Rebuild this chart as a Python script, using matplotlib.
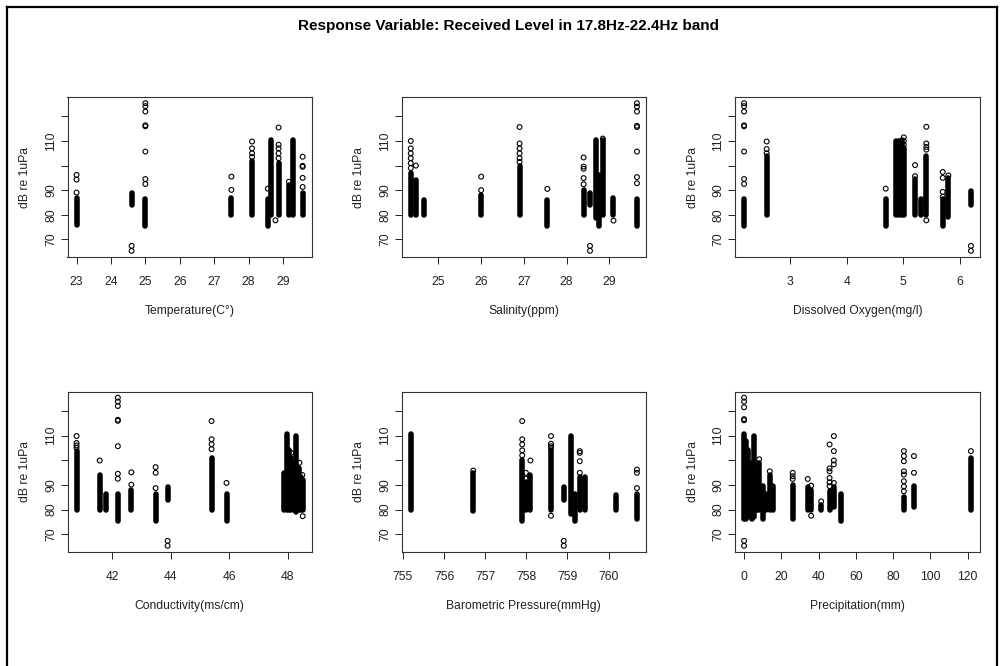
import numpy as np
import matplotlib
matplotlib.use("Agg")
import matplotlib.pyplot as plt
from matplotlib.lines import Line2D

plt.rcParams['font.family'] = ['Liberation Sans', 'DejaVu Sans']

# ---- data ----
# each panel: dense columns (x, low, high) + single circles (x, y)

# Temperature(C°)
temp_x = [23.0, 24.6, 25.0, 27.5, 28.1, 28.56, 28.66, 28.87, 29.17, 29.28, 29.57]
temp_lo = [76, 84, 75.5, 80, 80, 75.5, 80, 80, 80, 80, 80]
temp_hi = [87, 89, 86.5, 87, 102, 86.5, 110.5, 101, 92, 110.5, 89]
temp_ox = [23.0, 23.0, 23.0, 24.6, 24.6, 25.0, 25.0, 25.0, 25.0, 25.0, 25.0, 25.0, 25.0,
           27.5, 27.5, 28.1, 28.1, 28.1, 28.1, 28.56, 28.78,
           28.87, 28.87, 28.87, 28.87, 28.87, 29.17, 29.57, 29.57, 29.57, 29.57, 29.57]
temp_oy = [89, 94.3, 96.2, 65.3, 67.3, 92.5, 94.5, 105.7, 116.0, 116.4, 122.0, 124.2, 125.4,
           90.1, 95.5, 103.5, 105, 107, 109.8, 90.6, 77.7,
           103, 105, 107, 108.5, 115.5, 93.4, 91.3, 95, 99.5, 99.9, 103.6]

# Salinity(ppm)
sal_x = [24.35, 24.47, 24.66, 26.0, 26.9, 27.55, 28.4, 28.55, 28.7, 28.76, 28.85, 29.1, 29.65]
sal_lo = [80, 80, 80, 80, 80, 75.5, 80, 84, 78.5, 75.5, 80, 80, 75.5]
sal_hi = [97, 94, 86, 88, 100, 86, 90, 89, 110.5, 96, 110.5, 87, 86.5]
sal_ox = [24.35, 24.35, 24.35, 24.35, 24.35, 24.35, 24.47, 26.0, 26.0,
          26.9, 26.9, 26.9, 26.9, 26.9, 26.9, 27.55,
          28.4, 28.4, 28.4, 28.4, 28.4, 28.55, 28.55, 28.85, 29.1,
          29.65, 29.65, 29.65, 29.65, 29.65, 29.65, 29.65, 29.65]
sal_oy = [99, 101, 103, 105, 107, 110, 100, 90, 95.5,
          101.5, 103, 105, 107, 109, 115.7, 90.5,
          92.4, 94.9, 98.7, 99.6, 103.3, 65.3, 67.3, 111, 77.6,
          92.8, 95.3, 105.7, 115.7, 116.2, 122.0, 124.0, 125.4]

# Dissolved Oxygen(mg/l)
do_x = [2.18, 2.58, 4.69, 4.88, 4.93, 4.98, 5.01, 5.21, 5.31, 5.41, 5.7, 5.8, 6.2]
do_lo = [75.5, 80, 75.5, 80, 80, 80, 80, 80, 80, 80, 75.5, 79, 84]
do_hi = [86.5, 104, 86.5, 110, 110, 110.5, 107, 94.5, 86.5, 104, 86.5, 95, 89.5]
do_ox = [2.18, 2.18, 2.18, 2.18, 2.18, 2.18, 2.18, 2.18, 2.58, 2.58, 2.58, 4.69, 4.9,
         5.01, 5.01, 5.01, 5.21, 5.21, 5.41, 5.41, 5.41, 5.41, 5.41,
         5.7, 5.7, 5.7, 5.7, 5.8, 6.2, 6.2]
do_oy = [92.5, 94.5, 105.7, 116.0, 116.4, 122.0, 124.2, 125.4, 105, 106.7, 109.8, 90.6, 90.6,
         108.5, 110, 111.5, 95.7, 100.2, 77.7, 106.5, 107.6, 109, 115.8,
         87.3, 89.3, 95, 97.4, 96, 65.3, 67.3]

# Conductivity(ms/cm)
cond_x = [40.79, 41.58, 41.81, 42.2, 42.66, 43.49, 43.9, 45.4, 45.91,
          47.88, 47.97, 48.05, 48.12, 48.2, 48.29, 48.38, 48.45, 48.51]
cond_lo = [80, 80, 80, 75.5, 80, 75.5, 84, 80, 75.5, 80, 80, 80, 80, 80, 79, 80, 80, 80]
cond_hi = [103.7, 94, 86.5, 86.5, 88, 86.5, 89, 101, 86.5, 95, 110.5, 104, 101, 98, 110, 97, 93, 92]
cond_ox = [40.79, 40.79, 40.79, 40.79, 41.58, 42.2, 42.2, 42.2, 42.2, 42.2, 42.2, 42.2, 42.2,
           42.66, 42.66, 43.49, 43.49, 43.49, 43.9, 43.9,
           45.4, 45.4, 45.4, 45.4, 45.91, 48.51, 48.5, 48.4, 48.12]
cond_oy = [105, 106, 107, 109.8, 99.9, 92.5, 94.5, 105.7, 116.0, 116.4, 122.0, 123.8, 125.4,
           90.1, 95.1, 88.7, 94.9, 97.2, 65.3, 67.3,
           104.5, 106.5, 108.5, 115.9, 90.8, 77.3, 94, 99, 103]

# Barometric Pressure(mmHg)
bar_x = [755.19, 756.71, 757.9, 757.99, 758.1, 758.6, 758.91, 759.09, 759.19, 759.3,
         759.42, 760.19, 760.69]
bar_lo = [80, 79.5, 75.5, 80, 80, 80, 84, 78, 75.5, 80, 80, 80, 76]
bar_hi = [110.5, 95, 100, 91, 94, 104, 89, 110, 86.5, 93, 93, 86, 86.5]
bar_ox = [756.71, 757.9, 757.9, 757.9, 757.9, 757.9, 757.99, 757.99, 758.1,
          758.6, 758.6, 758.6, 758.6, 758.6, 758.91, 758.91,
          759.3, 759.3, 759.3, 759.3, 760.69, 760.69, 760.69]
bar_oy = [95.8, 102, 104, 106.4, 108.5, 115.9, 92.5, 94.9, 99.9,
          105, 105.7, 106.7, 109.8, 77.5, 65.3, 67.3,
          94.9, 99.6, 103, 103.7, 88.7, 94.9, 96.2]

# Precipitation(mm)
prec_x = [0, 1, 2, 3, 4, 5, 5.4, 7, 8.1, 9.9, 11.7, 13.8, 15.6, 26.1, 34.2, 36,
          41.4, 45.9, 48.2, 52.2, 85.8, 91.2, 121.8]
prec_lo = [76, 76, 77, 80, 76, 80, 77, 80, 80, 76, 80, 80, 80, 76, 80, 80,
           80, 80, 81, 75.5, 80, 81, 80]
prec_hi = [110.5, 108, 104, 98, 99, 97, 110, 96, 99, 89.5, 86.5, 94, 89.5, 90, 89, 88,
           82, 87.5, 89, 86.5, 85, 89.5, 101]
prec_ox = [0, 0, 0, 0, 0, 0, 0, 8.1, 13.8, 26.1, 26.1, 26.1, 34.2, 36, 36, 41.4,
           45.9, 45.9, 45.9, 45.9, 45.9, 45.9, 48.2, 48.2, 48.2, 48.2, 48.2,
           85.8, 85.8, 85.8, 85.8, 85.8, 85.8, 85.8, 85.8, 91.2, 91.2, 121.8]
prec_oy = [65.3, 67.3, 116.2, 116.7, 121.5, 123.8, 125.4, 100.4, 95.5, 92.4, 93.5, 94.9, 92.4, 77.5, 89.7, 83.3,
           89.5, 91, 92.8, 95.5, 96.7, 106.4, 90.8, 98.3, 99.9, 103.7, 109.8,
           87.4, 89.4, 91.5, 94.2, 95.5, 99.6, 101.7, 103.7, 94.9, 101.7, 103.7]

panels = [
    ("Temperature(C°)", temp_x, temp_lo, temp_hi, temp_ox, temp_oy, [23, 24, 25, 26, 27, 28, 29]),
    ("Salinity(ppm)", sal_x, sal_lo, sal_hi, sal_ox, sal_oy, [25, 26, 27, 28, 29]),
    ("Dissolved Oxygen(mg/l)", do_x, do_lo, do_hi, do_ox, do_oy, [3, 4, 5, 6]),
    ("Conductivity(ms/cm)", cond_x, cond_lo, cond_hi, cond_ox, cond_oy, [42, 44, 46, 48]),
    ("Barometric Pressure(mmHg)", bar_x, bar_lo, bar_hi, bar_ox, bar_oy, [755, 756, 757, 758, 759, 760]),
    ("Precipitation(mm)", prec_x, prec_lo, prec_hi, prec_ox, prec_oy, [0, 20, 40, 60, 80, 100, 120]),
]

y_ticks = [70, 80, 90, 100, 110, 120]
y_ticklabels = ["70", "80", "90", "", "110", ""]
y_low, y_high = 65.3, 125.4

W, H = 1002, 666
fig = plt.figure(figsize=(W / 100, H / 100), dpi=100)

# panel boxes in pixels (left, top, right, bottom)
col_edges = [(67.5, 311.7), (401.7, 646.0), (735.0, 980.0)]
row_edges = [(97.3, 256.7), (391.7, 551.7)]

for i, (label, sx, slo, shi, ox, oy, xt) in enumerate(panels):
    r, c = divmod(i, 3)
    x0, x1 = col_edges[c]
    y0, y1 = row_edges[r]
    ax = fig.add_axes([x0 / W, 1 - y1 / H, (x1 - x0) / W, (y1 - y0) / H])

    ax.vlines(sx, slo, shi, colors="black", linewidth=4.0, capstyle="round")
    ax.scatter(ox, oy, s=12, facecolors="none", edgecolors="black", linewidths=0.8)

    # R-style 4% padding around the data range
    xmin = min(min(sx), min(ox))
    xmax = max(max(sx), max(ox))
    pad = (xmax - xmin) * 0.04
    ax.set_xlim(xmin - pad, xmax + pad)
    ypad = (y_high - y_low) * 0.04
    ax.set_ylim(y_low - ypad, y_high + ypad)

    ax.set_xticks(xt)
    ax.set_yticks(y_ticks)
    ax.set_yticklabels(y_ticklabels, rotation=90, va="center")
    ax.tick_params(direction="out", length=5, width=0.7, labelsize=8.7, colors="#222222")
    ax.tick_params(axis="x", pad=9)
    ax.tick_params(axis="y", pad=2.5)
    for sp in ax.spines.values():
        sp.set_linewidth(0.8)
        sp.set_color("#333333")

    ax.set_xlabel(label, fontsize=8.7, labelpad=12, color="#222222")
    ax.set_ylabel("dB re 1uPa", fontsize=8.7, labelpad=10, color="#222222")

fig.text(509 / W, 1 - 26 / H, "Response Variable: Received Level in 17.8Hz-22.4Hz band",
         ha="center", va="center", fontsize=11, fontweight="bold")

# frame round the whole picture
fx0, fy0, fx1 = 6.5 / W, 1 - 7 / H, 997 / W
fig.add_artist(Line2D([fx0, fx0], [0, fy0], color="black", linewidth=1.6))
fig.add_artist(Line2D([fx0, fx1], [fy0, fy0], color="black", linewidth=1.6))
fig.add_artist(Line2D([fx1, fx1], [0, fy0], color="black", linewidth=1.6))

fig.savefig("out.png", dpi=100)
